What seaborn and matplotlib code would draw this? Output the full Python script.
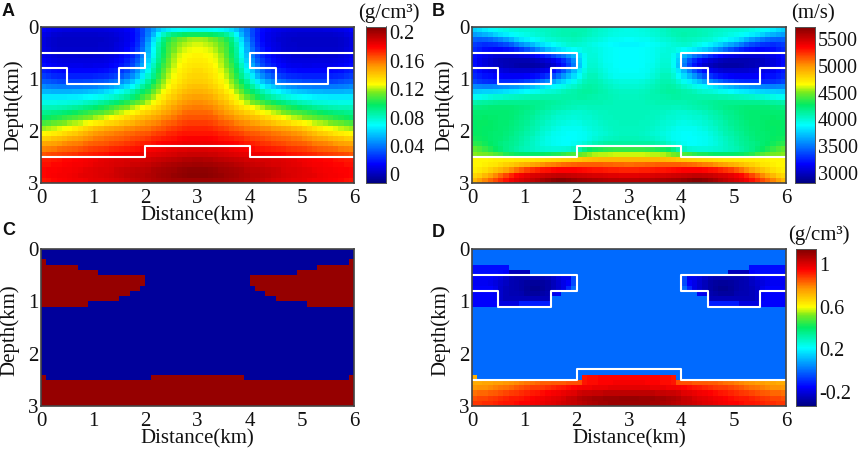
import numpy as np
import seaborn as sns
import matplotlib.pyplot as plt
from matplotlib.colors import LinearSegmentedColormap, ListedColormap

sns.set_theme(style='white')
plt.rcParams['font.family'] = ['Liberation Serif', 'DejaVu Serif']

# all grids are 0.1 km cells, left half only (x = 0-3 km), the sections are close to symmetric
# panel A, density in 0.001 g/cm3
density_half = [
    [14,12,10,9,8,8,7,7,7,7,7,7,8,9,10,11,13,16,22,30,40,48,56,62,66,68,70,71,72,72],
    [10,8,6,5,4,4,4,4,4,4,4,5,5,6,7,9,11,15,21,30,42,54,68,80,88,93,96,98,99,99],
    [8,6,4,3,3,3,3,3,3,3,3,3,4,5,6,8,11,15,22,32,46,62,78,92,102,108,113,116,118,119],
    [8,6,4,3,3,3,3,3,3,3,3,4,4,5,7,9,12,17,24,35,50,67,84,96,106,112,117,120,122,123],
    [9,7,5,4,4,4,4,4,4,4,4,5,5,6,8,10,14,19,27,38,53,70,86,98,108,115,120,123,125,126],
    [11,9,7,6,6,6,6,5,5,5,6,6,7,8,10,13,17,22,30,42,56,72,88,100,110,118,123,126,128,129],
    [14,12,10,9,8,8,8,8,8,8,8,8,9,11,13,16,20,26,34,46,60,76,91,103,113,120,125,128,130,131],
    [17,15,13,12,11,11,11,11,10,10,11,11,12,14,16,19,24,30,39,51,65,81,95,106,115,122,127,130,132,133],
    [21,19,17,16,15,15,15,15,15,15,15,16,17,19,21,25,30,37,46,58,72,86,99,110,118,124,129,132,134,135],
    [27,25,23,22,21,21,21,21,21,21,22,23,24,26,29,33,38,45,54,66,79,91,103,113,121,126,131,134,136,137],
    [34,33,31,30,29,29,29,29,30,30,31,32,34,37,40,45,50,57,66,76,87,98,108,117,124,129,133,136,138,139],
    [44,43,42,41,41,41,41,41,42,42,43,45,47,50,54,58,63,70,78,87,95,105,114,121,127,132,136,139,141,142],
    [54,54,53,53,53,53,54,54,55,56,57,59,62,65,69,73,78,84,91,97,103,112,119,126,131,136,140,143,145,146],
    [65,65,65,65,65,66,66,67,68,69,71,73,75,78,81,85,89,94,100,106,112,119,125,131,136,140,144,147,149,150],
    [74,74,74,75,75,76,77,78,80,82,84,87,90,93,96,100,104,108,112,116,121,126,131,136,141,145,149,152,153,154],
    [82,83,83,84,85,86,88,90,92,94,97,100,103,106,110,113,116,120,123,127,130,134,138,142,146,150,153,156,157,158],
    [90,91,92,93,95,97,99,102,104,106,108,110,113,116,119,122,125,128,131,135,138,141,144,148,151,154,157,160,161,161],
    [97,99,101,103,105,107,109,111,114,116,119,121,124,127,130,132,135,138,141,143,146,148,151,154,156,159,162,164,165,165],
    [108,110,112,114,116,118,120,122,125,128,130,132,135,137,139,141,144,146,149,151,153,155,157,160,162,164,166,168,169,169],
    [118,120,122,124,126,128,131,134,137,140,143,145,147,149,151,152,154,155,157,158,159,161,163,165,167,169,171,172,173,173],
    [128,129,131,133,135,138,140,143,146,149,152,153,155,156,158,159,160,161,163,164,165,167,169,170,172,173,175,176,176,176],
    [138,139,141,143,145,147,149,151,153,155,158,159,160,161,162,163,165,166,167,168,170,172,173,175,176,177,178,179,180,180],
    [148,149,150,152,154,156,157,158,160,162,163,164,165,166,167,168,170,171,172,174,175,177,178,179,180,181,182,183,183,183],
    [156,157,158,160,161,162,163,165,166,168,169,170,171,172,173,174,175,176,177,178,180,181,182,183,184,185,186,186,187,187],
    [165,166,167,168,169,170,171,172,173,174,175,176,177,178,179,180,181,182,183,183,184,185,186,187,188,189,190,190,191,191],
    [175,175,176,177,178,178,179,180,181,182,183,184,185,186,187,187,188,188,188,189,189,190,191,192,193,194,195,196,196,197],
    [177,177,178,178,179,180,181,181,182,183,184,185,186,187,188,188,189,190,190,191,192,194,195,196,197,198,199,200,200,201],
    [178,179,179,180,181,181,182,183,184,185,186,187,187,188,190,191,192,193,194,194,195,197,198,199,200,201,202,203,204,204],
    [178,179,180,181,181,182,183,184,185,185,186,187,188,189,190,191,193,194,195,195,196,197,199,200,201,202,203,204,205,205],
    [176,177,178,179,180,181,182,182,183,184,185,185,186,187,188,189,190,192,193,194,195,196,197,198,199,200,200,201,201,201],
]

# panel B, velocity in m/s
velocity_half = [
    [3770,3800,3840,3880,3910,3940,3960,3980,3990,4000,4010,4020,4030,4040,4050,4060,4070,4080,4090,4090,4090,4080,4060,4040,4020,4000,3980,3970,3960,3950],
    [3620,3640,3670,3710,3760,3810,3850,3880,3910,3940,3960,3980,4000,4020,4040,4060,4070,4080,4090,4100,4090,4070,4050,4030,4010,3990,3970,3960,3950,3950],
    [3450,3440,3450,3470,3510,3560,3620,3690,3760,3820,3860,3900,3930,3960,3990,4010,4030,4040,4050,4060,4050,4030,4010,3990,3970,3950,3930,3920,3910,3900],
    [3330,3310,3290,3300,3310,3340,3380,3440,3510,3580,3640,3700,3760,3810,3860,3900,3940,3970,4000,4020,4010,3990,3970,3950,3930,3910,3890,3880,3870,3870],
    [3280,3240,3200,3180,3170,3170,3190,3220,3260,3320,3390,3460,3540,3610,3680,3740,3790,3830,3870,3900,3940,3970,3980,3970,3950,3930,3910,3900,3890,3890],
    [3200,3150,3110,3080,3060,3050,3050,3050,3060,3080,3100,3130,3170,3220,3280,3350,3430,3500,3590,3680,3800,3920,3980,3980,3950,3930,3910,3900,3890,3890],
    [3180,3120,3070,3030,3000,2980,2970,2960,2960,2960,2960,2970,2990,3020,3060,3120,3200,3290,3400,3560,3750,3910,3990,3990,3960,3930,3910,3900,3890,3890],
    [3190,3130,3080,3040,3010,2990,2970,2950,2930,2920,2920,2920,2930,2950,2990,3040,3120,3220,3340,3520,3730,3910,4000,4000,3970,3940,3920,3900,3890,3890],
    [3230,3180,3140,3110,3090,3080,3060,3040,3030,3030,3030,3040,3060,3090,3130,3200,3290,3400,3540,3680,3830,3960,4030,4030,3990,3960,3930,3910,3900,3900],
    [3280,3240,3210,3190,3170,3160,3150,3150,3150,3150,3160,3180,3210,3250,3310,3390,3480,3590,3700,3800,3900,4010,4060,4060,4020,3980,3950,3930,3920,3920],
    [3350,3320,3300,3290,3280,3280,3280,3280,3290,3310,3340,3380,3430,3490,3560,3640,3720,3790,3860,3930,3990,4060,4090,4090,4060,4030,4000,3980,3970,3970],
    [3560,3550,3540,3540,3550,3560,3570,3590,3610,3640,3670,3710,3750,3800,3840,3880,3920,3950,3990,4030,4070,4110,4120,4110,4090,4060,4040,4020,4010,4010],
    [3740,3750,3760,3770,3780,3790,3810,3830,3850,3870,3890,3920,3940,3970,3990,4010,4030,4060,4080,4100,4120,4130,4130,4120,4100,4080,4060,4050,4040,4040],
    [3920,3940,3960,3980,4000,4010,4030,4040,4050,4060,4070,4080,4090,4100,4100,4100,4100,4110,4110,4110,4120,4120,4110,4100,4090,4080,4070,4060,4050,4050],
    [4100,4120,4130,4140,4150,4160,4160,4170,4170,4170,4160,4160,4160,4150,4140,4130,4120,4110,4100,4090,4090,4090,4090,4080,4080,4070,4070,4060,4060,4060],
    [4200,4210,4220,4230,4230,4230,4230,4230,4220,4210,4200,4190,4170,4150,4130,4110,4100,4080,4070,4060,4050,4050,4060,4060,4060,4060,4060,4060,4060,4060],
    [4240,4250,4250,4250,4250,4240,4240,4230,4220,4200,4180,4160,4130,4110,4080,4060,4040,4030,4020,4010,4010,4020,4030,4040,4050,4050,4060,4060,4060,4060],
    [4260,4260,4270,4260,4260,4250,4240,4230,4210,4190,4170,4140,4110,4080,4060,4030,4010,4000,3990,3980,3990,4000,4010,4030,4040,4050,4050,4060,4060,4060],
    [4270,4280,4280,4270,4260,4250,4240,4220,4200,4180,4150,4120,4090,4060,4030,4000,3980,3970,3960,3950,3960,3980,3990,4010,4030,4040,4050,4050,4060,4060],
    [4270,4280,4270,4270,4260,4240,4230,4210,4190,4160,4130,4100,4070,4030,4000,3970,3950,3930,3920,3920,3930,3950,3970,3990,4010,4030,4040,4050,4050,4050],
    [4280,4280,4270,4260,4250,4240,4220,4200,4170,4140,4110,4080,4040,4010,3970,3940,3920,3910,3900,3900,3910,3930,3950,3970,3990,4010,4030,4040,4050,4050],
    [4300,4290,4280,4260,4240,4230,4210,4180,4150,4120,4090,4050,4020,3980,3950,3930,3910,3900,3890,3900,3910,3930,3960,3990,4020,4040,4050,4060,4070,4070],
    [4350,4340,4300,4270,4240,4210,4190,4160,4140,4110,4070,4040,4000,3970,3950,3930,3910,3900,3900,3920,3950,3990,4030,4070,4100,4120,4130,4130,4130,4130],
    [4450,4420,4370,4320,4280,4230,4190,4150,4120,4090,4060,4040,4020,4000,3990,3980,3980,3990,4010,4050,4100,4200,4270,4300,4330,4350,4360,4370,4370,4370],
    [4520,4510,4490,4470,4440,4400,4350,4310,4290,4280,4270,4270,4270,4280,4290,4310,4330,4360,4390,4420,4460,4500,4530,4560,4570,4580,4590,4600,4600,4600],
    [4680,4680,4680,4690,4700,4700,4710,4710,4720,4720,4730,4740,4750,4760,4770,4780,4790,4800,4820,4830,4840,4860,4870,4880,4890,4900,4900,4900,4900,4900],
    [4680,4680,4700,4720,4740,4770,4800,4830,4860,4890,4920,4950,4980,5010,5040,5060,5080,5100,5110,5120,5130,5130,5130,5130,5130,5120,5120,5110,5110,5100],
    [4700,4720,4760,4800,4850,4900,4950,5020,5090,5150,5200,5240,5270,5300,5320,5340,5350,5350,5350,5350,5340,5330,5320,5310,5300,5290,5280,5280,5270,5270],
    [4780,4820,4880,4950,5030,5110,5190,5270,5340,5390,5420,5450,5470,5490,5510,5520,5530,5530,5520,5510,5500,5490,5480,5470,5460,5450,5440,5440,5430,5430],
    [4900,4960,5040,5110,5180,5250,5320,5380,5430,5470,5500,5530,5570,5610,5650,5680,5700,5700,5680,5660,5640,5620,5610,5600,5590,5580,5570,5570,5560,5560],
]

# panel C, red cells per row counted from the side, rows 0-29
facies_edge = [0,0,1,7,11,20,20,19,17,15,9,0,0,0,0,0,0,0,0,0,0,0,0,0,1,30,30,30,30,30]
facies_start = [30,30,30,30,30,30,30,30,30,30,30,30,30,30,30,30,30,30,30,30,30,30,30,30,21,0,0,0,0,0]

# panel D, in g/cm3, flat background apart from rows 3-10 and rows 24-29
inversion_background = 0.0
inversion_upper = [
    [-.14,-.14,-.14,-.14,-.14,-.14,-.14,0,0,0,0,0,0,0,0,0,0,0,0,0,0,0,0,0,0,0,0,0,0,0],
    [-.14,-.14,-.14,-.14,-.14,-.15,-.16,-.25,-.25,-.25,-.25,0,0,0,0,0,0,0,0,0,0,0,0,0,0,0,0,0,0,0],
    [-.16,-.16,-.16,-.16,-.17,-.19,-.22,-.25,-.26,-.26,-.26,-.26,-.26,-.26,-.25,-.23,-.2,-.18,-.18,-.05,0,0,0,0,0,0,0,0,0,0],
    [-.17,-.17,-.17,-.18,-.2,-.22,-.24,-.26,-.27,-.28,-.29,-.3,-.3,-.29,-.28,-.25,-.22,-.19,-.16,-.05,0,0,0,0,0,0,0,0,0,0],
    [-.16,-.16,-.16,-.16,-.18,-.23,-.25,-.26,-.27,-.28,-.3,-.31,-.31,-.3,-.28,-.25,-.22,-.19,-.1,0,0,0,0,0,0,0,0,0,0,0],
    [-.16,-.16,-.16,-.16,-.17,-.23,-.25,-.26,-.26,-.27,-.29,-.29,-.29,-.28,-.27,-.18,-.17,0,0,0,0,0,0,0,0,0,0,0,0,0],
    [-.16,-.16,-.16,-.16,-.17,-.23,-.25,-.25,-.25,-.25,-.25,-.25,-.25,-.25,-.25,0,0,0,0,0,0,0,0,0,0,0,0,0,0,0],
    [-.16,-.16,-.16,-.16,-.16,-.2,-.2,-.2,-.2,-.12,-.12,-.12,-.12,-.12,-.12,0,0,0,0,0,0,0,0,0,0,0,0,0,0,0],
]
inversion_lower = [
    [0,0,0,0,0,0,0,0,0,0,0,0,0,0,0,0,0,0,0,0,0,.93,.94,.94,.95,.95,.95,.95,.95,.95],
    [.74,.74,.75,.75,.76,.76,.77,.78,.79,.8,.81,.82,.83,.84,.84,.85,.85,.85,.86,.86,.86,.93,.94,.94,.95,.95,.95,.96,.96,.96],
    [.77,.78,.78,.79,.8,.81,.82,.83,.85,.86,.87,.88,.88,.89,.9,.91,.92,.93,.94,.95,.96,.97,.97,.98,.98,.98,.99,.99,.99,.99],
    [.82,.83,.83,.84,.85,.86,.87,.88,.89,.9,.91,.92,.93,.94,.95,.96,.97,.98,.99,1.0,1.02,1.03,1.03,1.04,1.04,1.05,1.05,1.05,1.05,1.05],
    [.86,.87,.87,.88,.89,.9,.91,.92,.92,.93,.94,.95,.96,.97,.98,.99,1.0,1.01,1.03,1.04,1.06,1.07,1.08,1.09,1.09,1.1,1.1,1.1,1.11,1.11],
    [.89,.89,.9,.9,.91,.92,.93,.93,.94,.95,.95,.96,.97,.98,.99,1.0,1.01,1.02,1.03,1.04,1.05,1.06,1.07,1.08,1.09,1.09,1.1,1.1,1.1,1.1],
]
# the single orange cell at the left edge of D
inversion_corner = 0.73

# model outline in km
salt_x = [0, 2, 2, 1.5, 1.5, 0.5, 0.5, 0]
salt_y = [0.5, 0.5, 0.8, 0.8, 1.1, 1.1, 0.8, 0.8]
base_x = [0, 2, 2, 4, 4, 6]
base_y = [2.5, 2.5, 2.3, 2.3, 2.5, 2.5]

x_ticks = [0, 1, 2, 3, 4, 5, 6]
y_ticks = [0, 1, 2, 3]
density_ticks = [0, 0.04, 0.08, 0.12, 0.16, 0.2]
density_labels = ['0', '0.04', '0.08', '0.12', '0.16', '0.2']
velocity_ticks = [3000, 3500, 4000, 4500, 5000, 5500]
inversion_ticks = [-0.2, 0.2, 0.6, 1]
inversion_labels = ['-0.2', '0.2', '0.6', '1']

# jet-like colour bar of the figure, with a stronger green than matplotlib's jet
section_cmap = LinearSegmentedColormap.from_list('section', [
    (0.0, '#000082'), (0.12, '#0000ff'), (0.37, '#00ffff'), (0.5, '#00eb64'),
    (0.58, '#78eb1e'), (0.63, '#ffff00'), (0.75, '#ff9600'), (0.87, '#ff0000'), (1.0, '#800000'),
])


def mirror(half):
    half = np.array(half, dtype=float)
    return np.hstack([half, half[:, ::-1]])


density = mirror(density_half) / 1000
velocity = mirror(velocity_half)

facies_half = np.zeros((30, 30))
for row in range(30):
    facies_half[row, :facies_edge[row]] = 1
    facies_half[row, facies_start[row]:] = 1
facies = mirror(facies_half)

inversion_half = np.full((30, 30), inversion_background)
inversion_half[3:11] = inversion_upper
inversion_half[24:30] = inversion_lower
inversion = mirror(inversion_half)
inversion[24, 0] = inversion_corner

W, H = 858, 449
fig = plt.figure(figsize=(W / 100, H / 100), dpi=100)


def px_axes(x0, y0, x1, y1):
    return fig.add_axes([x0 / W, 1 - y1 / H, (x1 - x0) / W, (y1 - y0) / H])


def draw_panel(box, data, cmap, vmin, vmax, cbar_box=None, ticks=None, labels=None, outline=True, ypad=3, ylabel_y=0.5):
    ax = px_axes(*box)
    cax = px_axes(*cbar_box) if cbar_box else None
    sns.heatmap(data, ax=ax, cmap=cmap, vmin=vmin, vmax=vmax, cbar=cbar_box is not None, cbar_ax=cax,
                xticklabels=False, yticklabels=False, rasterized=True)
    ax.set_xticks([t * 10 for t in x_ticks])
    ax.set_xticklabels(x_ticks, rotation=0, fontsize=15)
    ax.set_yticks([t * 10 for t in y_ticks])
    ax.set_yticklabels(y_ticks, rotation=0, fontsize=15)
    ax.tick_params(axis='x', length=0, pad=4.5, colors='#111111')
    ax.tick_params(axis='y', length=0, pad=2, colors='#111111')
    ax.set_xlabel('Distance(km)', fontsize=15, labelpad=-1.5, color='#111111')
    ax.set_ylabel('Depth(km)', fontsize=15, labelpad=ypad, color='#111111', y=ylabel_y)
    for spine in ax.spines.values():
        spine.set_visible(True)
        spine.set_color('#444444')
        spine.set_linewidth(1.2)
    if outline:
        xs = np.array(salt_x) * 10
        ys = np.array(salt_y) * 10
        ax.plot(xs, ys, color='white', lw=1.5)
        ax.plot(60 - xs, ys, color='white', lw=1.5)
        ax.plot(np.array(base_x) * 10, np.array(base_y) * 10, color='white', lw=1.5)
    if cax is not None:
        cax.set_yticks(ticks)
        cax.set_yticklabels(labels if labels else ticks, fontsize=14.5, color='#111111')
        cax.tick_params(length=0, pad=2)
        for spine in cax.spines.values():
            spine.set_visible(True)
            spine.set_color('#555555')
            spine.set_linewidth(0.6)
    return ax


draw_panel((41, 26.5, 354, 183), density, section_cmap, -0.012, 0.208, (366, 26.5, 386, 183), density_ticks, density_labels)
draw_panel((472, 26.5, 786, 183), velocity, section_cmap, 2813, 5733, (795, 26.5, 815, 183), velocity_ticks)
draw_panel((41, 249, 354, 406), facies, ListedColormap(['#00009b', '#960000']), 0, 1, outline=False, ypad=6, ylabel_y=0.48)
draw_panel((472, 249, 786, 406), inversion, section_cmap, -0.335, 1.145, (796, 249, 816, 406), inversion_ticks, inversion_labels, ypad=6, ylabel_y=0.48)

fig.text(389 / W, 1 - 13 / H, '(g/cm\u00b3)', fontsize=15, ha='center', va='center', color='#111111')
fig.text(813 / W, 1 - 14 / H, '(m/s)', fontsize=15, ha='center', va='center', color='#111111')
fig.text(819 / W, 1 - 235 / H, '(g/cm\u00b3)', fontsize=15, ha='center', va='center', color='#111111')

for letter, px, py in [('A', 2, 12), ('B', 432, 11), ('C', 2, 231), ('D', 432, 232)]:
    fig.text(px / W, 1 - py / H, letter, fontsize=13, fontweight='bold', family='Liberation Sans',
             ha='left', va='center', color='#111111')

fig.savefig('out.png', dpi=100)
